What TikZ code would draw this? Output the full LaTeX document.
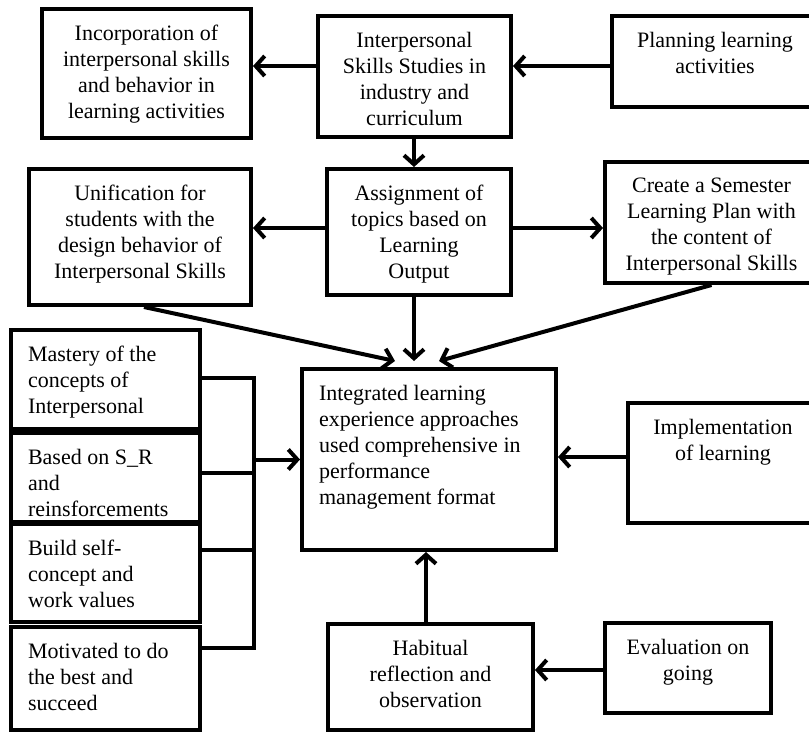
\documentclass[tikz,border=0pt]{standalone}
\usepackage{fontspec}
\setmainfont{Liberation Serif}
\usetikzlibrary{arrows.meta}
% fixed size text block, text at the top
\newcommand{\blocktext}[3]{\parbox[c][\dimexpr#2pt-32pt\relax][t]{\dimexpr#1pt-34pt\relax}{#3}}
\tikzset{
  font=\fontsize{22}{26}\selectfont,
  % Set arrowhead
  >={Straight Barb[length=9pt,width=20pt]},
  % Box
  blk/.style={draw, line width=4pt, inner xsep=17pt, inner ysep=16pt},
  % Connectors
  lnk/.style={line width=4pt},
  arr/.style={lnk, ->},
}
\begin{document}
\begin{tikzpicture}[x=1pt, y=-1pt]
  \useasboundingbox (0,0) rectangle (809,732);

  \node[blk] (inc) at (146.5,73.5) {\blocktext{209}{129}{\centering Incorporation of\\ interpersonal skills\\ and behavior in\\ learning activities}};
  \node[blk] (iss) at (414.5,76.5) {\blocktext{193}{121}{\centering Interpersonal\\ Skills Studies in\\ industry and\\ curriculum}};
  \node[blk] (plan) at (715,61.5) {\blocktext{206}{91}{\centering Planning learning\\ activities}};

  \node[blk] (uni) at (140,237) {\blocktext{222}{136}{\centering Unification for\\ students with the\\ design behavior of\\ Interpersonal Skills}};
  \node[blk] (asg) at (419,232) {\blocktext{184}{126}{\centering Assignment of\\ topics based on\\ Learning\\ Output}};
  \node[blk] (sem) at (711.5,222.5) {\blocktext{213}{121}{\centering Create a Semester\\ Learning Plan with\\ the content of\\ Interpersonal Skills}};

  \node[blk] (m1) at (105.5,379.5) {\blocktext{189}{99}{\raggedright Mastery of the\\ concepts of\\ Interpersonal}};
  \node[blk] (m2) at (105.5,477.5) {\blocktext{189}{89}{\raggedright Based on S\_R\\ and\\ reinsforcements}};
  \node[blk] (m3) at (105.5,573) {\blocktext{189}{98}{\raggedright Build self-\\ concept and\\ work values}};
  \node[blk] (m4) at (105.5,678.5) {\blocktext{189}{103}{\raggedright Motivated to do\\ the best and\\ succeed}};

  \node[blk] (int) at (429,459.5) {\blocktext{254}{181}{\raggedright Integrated learning\\ experience approaches\\ used comprehensive in\\ performance\\ management format}};
  \node[blk] (imp) at (723,463) {\blocktext{190}{120}{\centering Implementation\\ of learning}};
  \node[blk] (hab) at (430.5,677) {\blocktext{205}{106}{\centering Habitual\\ reflection and\\ observation}};
  \node[blk] (eva) at (688,668) {\blocktext{166}{90}{\centering Evaluation on\\ going}};

  % top rows
  \draw[arr] ([yshift=10.5pt]iss.west) -- ([yshift=7.5pt]inc.east);
  \draw[arr] ([yshift=-4.5pt]plan.west) -- ([yshift=10.5pt]iss.east);
  \draw[arr] ([xshift=-0.5pt]iss.south) -- ([xshift=-5pt]asg.north);
  \draw[arr] ([yshift=4pt]asg.west) -- ([yshift=9pt]uni.east);
  \draw[arr] ([yshift=4pt]asg.east) -- ([yshift=-5.5pt]sem.west);
  \draw[arr] ([xshift=4pt]uni.south) -- ([xshift=-34pt,yshift=6pt]int.north);
  \draw[arr] ([xshift=-5pt]asg.south) -- ([xshift=-15pt,yshift=6pt]int.north);
  \draw[arr] (sem.south) -- ([xshift=10pt,yshift=6pt]int.north);

  % left bracket
  \coordinate (jt) at (254,378);
  \coordinate (jb) at (254,648);
  \draw[lnk] (m1.east |- jt) -- (jt) -- (jb) -- (m4.east |- jb);
  \draw[lnk] ([yshift=4.5pt]m2.east) -- ++(54pt,0pt);
  \draw[lnk] ([yshift=23pt]m3.east) -- ++(54pt,0pt);
  \draw[arr] (jt |- int.west) -- (int.west);

  % right and bottom
  \draw[arr] ([yshift=6pt]imp.west) -- ([yshift=2.5pt]int.east);
  \draw[arr] ([xshift=-4.5pt]hab.north) -- ([xshift=-3pt]int.south);
  \draw[arr] ([yshift=-2pt]eva.west) -- ([yshift=7pt]hab.east);
\end{tikzpicture}
\end{document}
